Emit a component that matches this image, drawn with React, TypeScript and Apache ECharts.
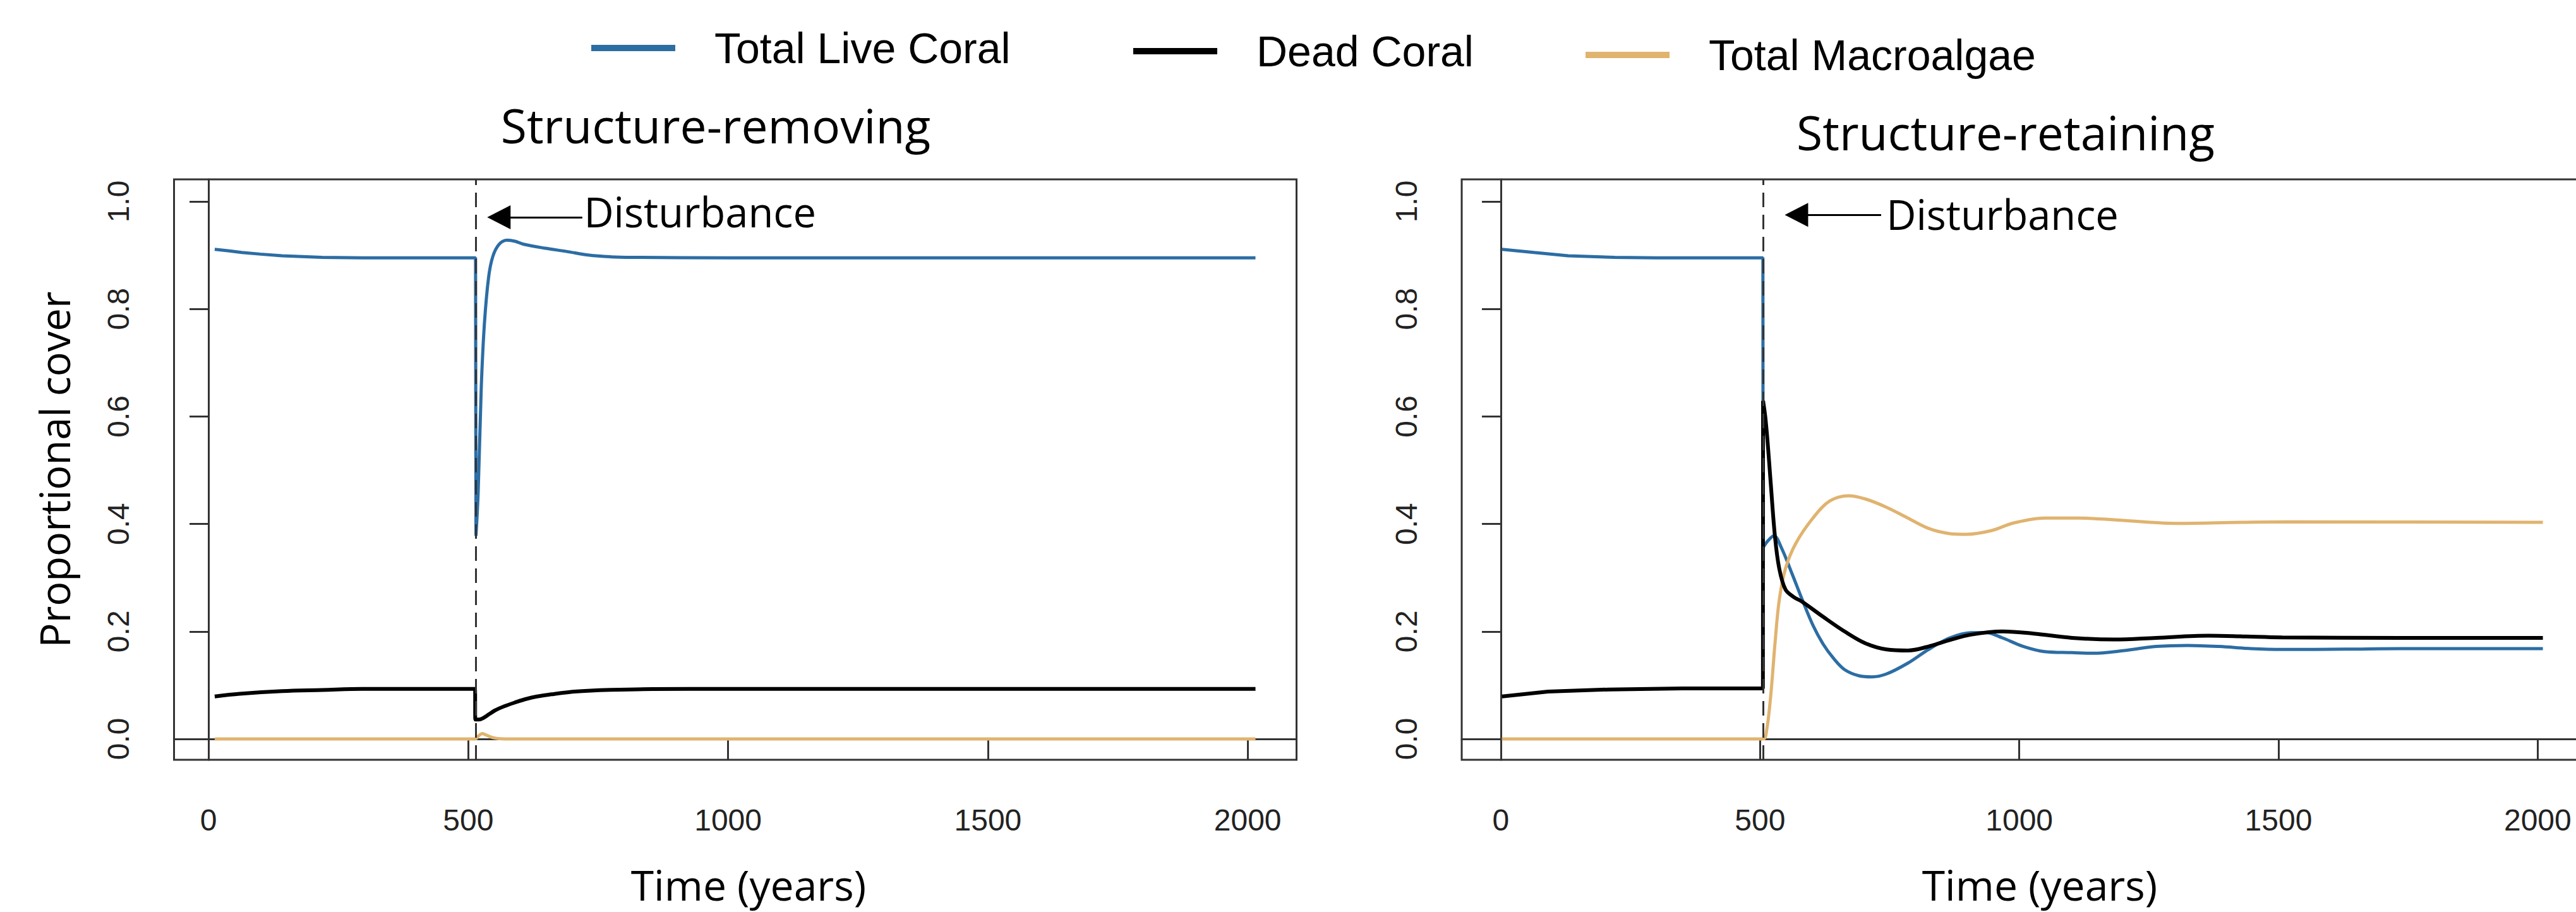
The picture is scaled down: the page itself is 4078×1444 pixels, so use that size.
import React, { useEffect, useRef } from 'react';
import * as echarts from 'echarts';

const X_TICKS = [0, 500, 1000, 1500, 2000];
const Y_TICKS = [0, 0.2, 0.4, 0.6, 0.8, 1.0];
const SERIES_NAMES = ['Total Live Coral', 'Dead Coral', 'Total Macroalgae'];
const PANEL_TITLES = ['Structure-removing', 'Structure-retaining'];
const X_NAME = 'Time (years)';
const Y_NAME = 'Proportional cover';
const DISTURBANCE_LABEL = 'Disturbance';
const DISTURBANCE_TIME = [514, 505.7];

// Structure-removing panel
const removingLive: number[][] = [
  [12, 0.911], [40, 0.908], [64, 0.905], [100, 0.902], [142, 0.899], [219, 0.896], [296, 0.895],
  [514, 0.895], [514.8, 0.378], [519, 0.458], [525, 0.654], [531, 0.772], [539, 0.858], [547, 0.897],
  [559, 0.92], [575, 0.928], [590, 0.926], [608, 0.92], [648, 0.913], [689, 0.907], [733, 0.9],
  [775, 0.897], [815, 0.896], [1000, 0.895], [2015, 0.895],
];
const removingDead: number[][] = [
  [12, 0.079], [60, 0.084], [142, 0.089], [219, 0.091], [296, 0.093], [513, 0.093], [513.5, 0.036],
  [520, 0.036], [527, 0.038], [540, 0.046], [551, 0.0529], [570, 0.061], [592, 0.0685], [610, 0.074],
  [632, 0.079], [660, 0.083], [693, 0.087], [730, 0.0895], [774, 0.0913], [855, 0.0928], [1000, 0.093],
  [2015, 0.093],
];
const removingAlgae: number[][] = [
  [12, 0], [513, 0], [520, 0.006], [527, 0.01], [535, 0.007], [545, 0.003], [555, 0.001], [570, 0], [2015, 0],
];

// Structure-retaining panel
const retainingLive: number[][] = [
  [2, 0.911], [64, 0.905], [130, 0.899], [220, 0.896], [300, 0.895], [505.5, 0.895], [505.8, 0.356],
  [514.6, 0.368], [526.8, 0.378], [541, 0.356], [561, 0.309], [581.6, 0.2585], [602, 0.2115], [622, 0.176],
  [642.5, 0.149], [663, 0.129], [691, 0.1175], [715.6, 0.1155], [744, 0.121], [785, 0.141], [825, 0.1665],
  [866, 0.188], [906.5, 0.1978], [935, 0.198], [967.5, 0.188], [1008, 0.172], [1049, 0.1625],
  [1101.5, 0.1606], [1142, 0.1594], [1203, 0.1645], [1264, 0.172], [1325, 0.174], [1386, 0.172],
  [1447, 0.168], [1508, 0.1665], [1630, 0.167], [1735, 0.168], [2010, 0.168],
];
const retainingDead: number[][] = [
  [2, 0.079], [91, 0.088], [208, 0.092], [350, 0.094], [505.5, 0.094], [505.8, 0.629], [510, 0.6],
  [514.6, 0.552], [520.7, 0.474], [528.8, 0.376], [537, 0.317], [549, 0.278], [565, 0.264], [581.6, 0.255],
  [622, 0.227], [663, 0.2], [703, 0.178], [744, 0.1665], [785, 0.1645], [825, 0.172], [866, 0.184],
  [906.5, 0.194], [967.5, 0.2], [1028, 0.196], [1101.5, 0.188], [1183, 0.185], [1264, 0.188],
  [1365, 0.192], [1426, 0.191], [1507, 0.189], [1735, 0.188], [2010, 0.188],
];
const retainingAlgae: number[][] = [
  [2, 0], [505.7, 0], [512.6, 0.0157], [520.7, 0.082], [529, 0.18], [537, 0.2585], [549, 0.317],
  [569, 0.364], [602, 0.411], [634.5, 0.4427], [671, 0.4524], [703, 0.4465], [744, 0.431], [785, 0.411],
  [825, 0.3917], [866, 0.382], [898, 0.3807], [947, 0.3878], [988, 0.4015], [1049, 0.411], [1114, 0.411],
  [1178, 0.408], [1304, 0.401], [1430, 0.403], [1514, 0.404], [2010, 0.403],
];

// arrow annotation: shaft start time, arrow head centre time, level; text anchor [time, level]
const ARROWS = [
  { from: 719.4, to: 558.9, level: 0.9705, text: [722, 0.9806] },
  { from: 733.5, to: 570.2, level: 0.975, text: [743, 0.9765] },
];

const COLORS = ['#2C6DA4', '#000000', '#E0B36F'];
const PANELS = [
  [removingLive, removingDead, removingAlgae],
  [retainingLive, retainingDead, retainingAlgae],
];

// index of the point that ends a near-vertical jump (the disturbance), or -1
function jumpEnd(data: number[][]): number {
  for (let i = 0; i + 1 < data.length; i++) {
    if (data[i + 1][0] - data[i][0] < 2 && Math.abs(data[i + 1][1] - data[i][1]) > 0.2) return i + 1;
  }
  return -1;
}

export default function App() {
  const ref = useRef<HTMLDivElement>(null);
  useEffect(() => {
    if (!ref.current) return;
    document.documentElement.style.overflow = 'hidden';
    document.body.style.overflow = 'hidden';
    document.body.style.margin = '0';
    const chart = echarts.init(ref.current, undefined, { renderer: 'svg' });
    const axisColor = '#333';
    const gridLefts = [275.5, 2314];
    const gridWidths = [1777, 1830];
    const xRanges = [[-66.3, 2094], [-75.5, 2154.3]];
    const widths = [5, 6, 5];
    const series: any[] = [];
    PANELS.forEach((panel, p) => {
      panel.forEach((data, s) => {
        const base = {
          type: 'line',
          name: SERIES_NAMES[s],
          xAxisIndex: p,
          yAxisIndex: p,
          symbol: 'none',
          showSymbol: false,
          color: COLORS[s],
          itemStyle: { color: COLORS[s] },
          lineStyle: { color: COLORS[s], width: widths[s] },
          z: s === 1 ? 3 : 2,
        };
        const k = jumpEnd(data);
        const pieces: any[] = [];
        if (k > 0) {
          pieces.push({ ...base, data: data.slice(0, k + 1), smooth: false });
          pieces.push({ ...base, data: data.slice(k), smooth: 0.35 });
        } else {
          pieces.push({ ...base, data, smooth: 0.35 });
        }
        const first = pieces[0];
        if (s === 0) {
          first.markLine = {
            silent: true,
            symbol: ['none', 'none'],
            label: { show: false },
            lineStyle: { type: [23, 12], color: '#333', width: 3 },
            data: [{ xAxis: DISTURBANCE_TIME[p] }],
          };
        }
        if (s === 1) {
          const a = ARROWS[p];
          first.markLine = {
            silent: true,
            symbol: ['none', 'none'],
            label: { show: false },
            lineStyle: { type: 'solid', color: '#000', width: 3 },
            data: [[
              { coord: [a.from, a.level], symbol: 'none' },
              { coord: [a.to, a.level], symbol: 'triangle', symbolSize: [38, 37] },
            ]],
          };
          first.markPoint = {
            silent: true,
            symbol: 'circle',
            symbolSize: 1,
            itemStyle: { color: 'rgba(0,0,0,0)' },
            label: {
              show: true,
              position: 'right',
              distance: 0,
              formatter: DISTURBANCE_LABEL,
              fontFamily: 'Open Sans',
              fontSize: 65,
              color: '#000',
            },
            data: [{ coord: a.text }],
          };
        }
        series.push(...pieces);
      });
    });

    const legendLefts = [936, 1794, 2510];
    const legendTops = [42, 47, 53];

    chart.setOption({
      animation: false,
      backgroundColor: '#ffffff',
      title: PANEL_TITLES.map((t, i) => ({
        text: t,
        left: [1133, 3175][i],
        top: [160, 171][i],
        textAlign: 'center',
        padding: 0,
        textStyle: { fontFamily: 'Open Sans', fontSize: 75, fontWeight: 'normal', color: '#000' },
      })),
      legend: SERIES_NAMES.map((n, i) => ({
        data: [n],
        left: legendLefts[i],
        top: legendTops[i],
        icon: 'rect',
        itemWidth: 133,
        itemHeight: 10,
        padding: 0,
        selectedMode: false,
        textStyle: { fontFamily: 'Liberation Sans', fontSize: 68, color: '#000', padding: [0, 0, 0, 57] },
      })),
      grid: gridLefts.map((l, i) => ({
        left: l,
        top: 284,
        width: gridWidths[i],
        height: 919,
        show: true,
        outerBoundsMode: 'none',
        containLabel: false,
        borderColor: axisColor,
        borderWidth: 3,
        backgroundColor: 'rgba(0,0,0,0)',
      })),
      xAxis: [0, 1].map((i) => ({
        type: 'value',
        gridIndex: i,
        min: xRanges[i][0],
        max: xRanges[i][1],
        axisLine: { show: true, lineStyle: { color: axisColor, width: 3 } },
        axisTick: { show: true, length: 33, customValues: X_TICKS, lineStyle: { color: axisColor, width: 3 } },
        axisLabel: {
          customValues: X_TICKS,
          margin: 71,
          fontFamily: 'Liberation Sans',
          fontSize: 48,
          color: '#222',
          formatter: (v: number) => String(Math.round(v)),
        },
        splitLine: { show: false },
        name: X_NAME,
        nameLocation: 'middle',
        nameGap: 164,
        nameTextStyle: {
          fontFamily: 'Open Sans',
          fontSize: 66,
          color: '#000',
          padding: i === 0 ? [0, 0, 0, 42] : [0, 0, 0, 0],
        },
      })),
      yAxis: [0, 1].map((i) => ({
        type: 'value',
        gridIndex: i,
        min: -0.0388,
        max: 1.0411,
        axisLine: { show: true, lineStyle: { color: axisColor, width: 3 } },
        axisTick: { show: true, length: 30, customValues: Y_TICKS, lineStyle: { color: axisColor, width: 3 } },
        axisLabel: {
          customValues: Y_TICKS,
          rotate: 90,
          margin: 64,
          fontFamily: 'Liberation Sans',
          fontSize: 48,
          color: '#222',
          formatter: (v: number) => v.toFixed(1),
        },
        splitLine: { show: false },
        name: i === 0 ? Y_NAME : '',
        nameLocation: 'middle',
        nameGap: 157,
        nameTextStyle: { fontFamily: 'Open Sans', fontSize: 65, color: '#000' },
      })),
      series,
    });
    return () => chart.dispose();
  }, []);
  return (
    <div
      ref={ref}
      style={{ position: 'absolute', left: 0, top: 0, width: 4078, height: 1444, background: '#fff' }}
    />
  );
}
